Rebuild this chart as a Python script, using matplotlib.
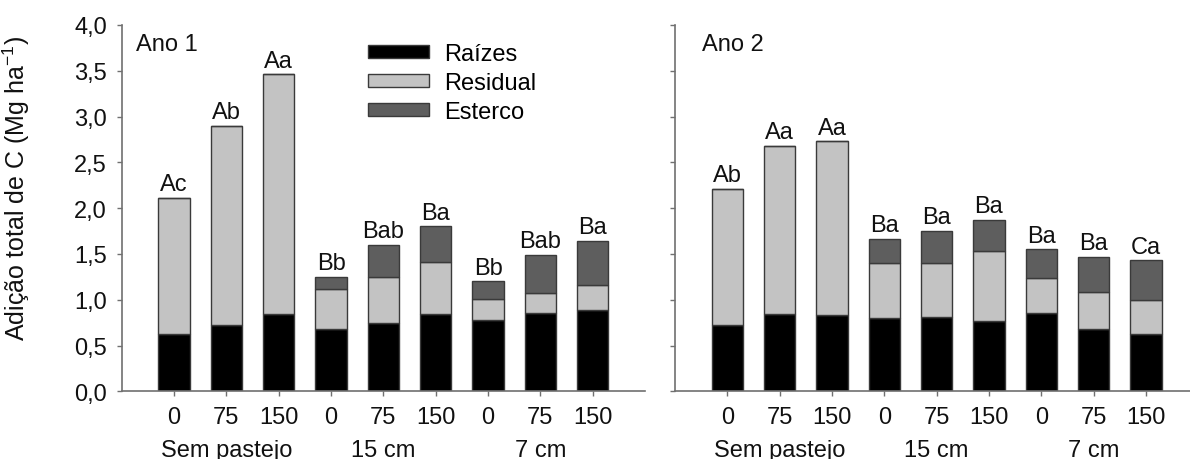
import matplotlib
matplotlib.use("Agg")
import matplotlib.pyplot as plt
from matplotlib.ticker import FixedLocator
import numpy as np

plt.rcParams['font.family'] = ['Liberation Sans', 'DejaVu Sans']
plt.rcParams['mathtext.fontset'] = 'custom'
plt.rcParams['mathtext.rm'] = 'Liberation Sans'
plt.rcParams['mathtext.default'] = 'regular'

# doses (tick labels) e grupos
doses = ['0', '75', '150', '0', '75', '150', '0', '75', '150']
grupos = ['Sem pastejo', '15 cm', '7 cm']
grupo_pos = [1, 4, 7]

# Ano 1 (Mg ha-1)
raizes_1 = [0.63, 0.72, 0.84, 0.68, 0.75, 0.84, 0.78, 0.86, 0.89]
residual_1 = [1.48, 2.18, 2.62, 0.44, 0.50, 0.57, 0.23, 0.21, 0.27]
esterco_1 = [0.0, 0.0, 0.0, 0.13, 0.35, 0.39, 0.19, 0.42, 0.48]
letras_1 = ['Ac', 'Ab', 'Aa', 'Bb', 'Bab', 'Ba', 'Bb', 'Bab', 'Ba']

# Ano 2
raizes_2 = [0.72, 0.84, 0.83, 0.80, 0.81, 0.77, 0.85, 0.68, 0.63]
residual_2 = [1.49, 1.84, 1.90, 0.60, 0.59, 0.76, 0.39, 0.40, 0.37]
esterco_2 = [0.0, 0.0, 0.0, 0.26, 0.35, 0.34, 0.31, 0.39, 0.43]
letras_2 = ['Ab', 'Aa', 'Aa', 'Ba', 'Ba', 'Ba', 'Ba', 'Ba', 'Ca']

yticks = [0, 0.5, 1.0, 1.5, 2.0, 2.5, 3.0, 3.5, 4.0]
ytick_labels = ['0,0', '0,5', '1,0', '1,5', '2,0', '2,5', '3,0', '3,5', '4,0']

cor_raiz = '#000000'
cor_resid = '#c3c3c3'
cor_est = '#5e5e5e'
cor_borda = '#3a3a3a'
cor_eixo = '#707070'
fs = 17

fig = plt.figure(figsize=(11.9, 4.6), dpi=100)
ax1 = fig.add_axes([0.1023, 0.1472, 0.4397, 0.7963])
ax2 = fig.add_axes([0.5672, 0.1472, 0.4397, 0.7963])


def painel(ax, raiz, resid, est, letras, titulo, tx, mostra_y):
    x = np.arange(len(doses))
    raiz = np.array(raiz)
    resid = np.array(resid)
    est = np.array(est)
    w = 0.6
    ax.bar(x, raiz, w, color=cor_raiz, edgecolor=cor_borda, linewidth=1, label='Raízes')
    ax.bar(x, resid, w, bottom=raiz, color=cor_resid, edgecolor=cor_borda, linewidth=1,
           label='Residual')
    ax.bar(x, est, w, bottom=raiz + resid, color=cor_est, edgecolor=cor_borda, linewidth=1,
           label='Esterco')
    tot = raiz + resid + est
    for i in range(len(x)):
        ax.annotate(letras[i], (x[i], tot[i]), xytext=(0, 2), textcoords='offset points',
                    ha='center', va='bottom', fontsize=fs, color='#111111')

    ax.set_xlim(-1, 9)
    ax.set_ylim(0, 4)
    for s in ['top', 'right']:
        ax.spines[s].set_visible(False)
    for s in ['left', 'bottom']:
        ax.spines[s].set_color(cor_eixo)
        ax.spines[s].set_linewidth(1.2)
    ax.xaxis.set_major_locator(FixedLocator(x))
    ax.set_xticklabels(doses)
    ax.yaxis.set_major_locator(FixedLocator(yticks))
    if mostra_y:
        ax.set_yticklabels(ytick_labels)
    else:
        ax.set_yticklabels([])
    ax.tick_params(axis='both', direction='out', length=3.6, width=1, color=cor_eixo,
                   labelsize=fs, labelcolor='#111111')
    ax.tick_params(axis='x', pad=7)
    ax.tick_params(axis='y', pad=7)

    for g, p in zip(grupos, grupo_pos):
        ax.text(p, -0.16, g, transform=ax.get_xaxis_transform(), ha='center', va='center',
                fontsize=fs, color='#111111')
    ax.text(tx, 3.79, titulo, ha='left', va='center', fontsize=fs, color='#111111',
            transform=ax.get_yaxis_transform())


painel(ax1, raizes_1, residual_1, esterco_1, letras_1, 'Ano 1', 0.027, True)
painel(ax2, raizes_2, residual_2, esterco_2, letras_2, 'Ano 2', 0.051, False)

ax1.set_ylabel('Adição total de C (Mg ha$^{-1}$)', fontsize=18, color='#111111')
ax1.yaxis.set_label_coords(-0.172, 0.555)

ax1.legend(loc='center left', bbox_to_anchor=(0.3095, 0.8174), bbox_transform=fig.transFigure,
           frameon=False, fontsize=fs, borderpad=0, borderaxespad=0, handlelength=2.55,
           handleheight=0.47, labelspacing=0.3, handletextpad=0.65)

fig.savefig('out.png', dpi=100)
